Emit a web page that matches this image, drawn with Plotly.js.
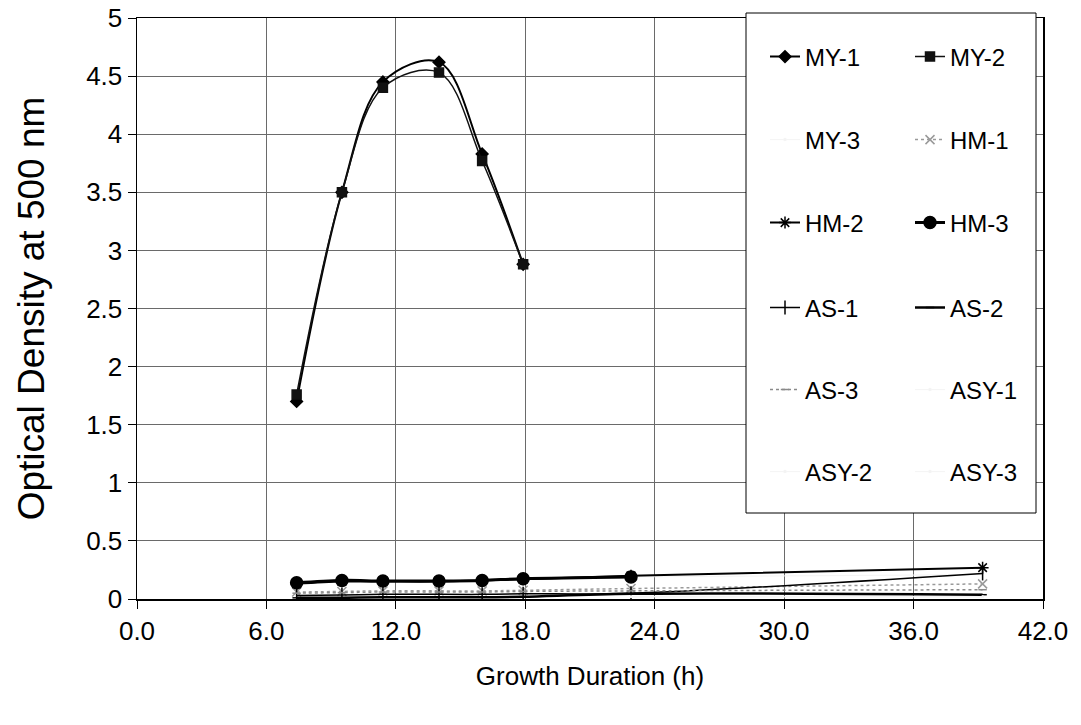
<!DOCTYPE html>
<html>
<head>
<meta charset="utf-8">
<script src="https://cdn.plot.ly/plotly-3.0.1.min.js"></script>
<style>html,body{margin:0;padding:0;background:#fff;}#chart{width:1081px;height:725px;}</style>
</head>
<body>
<div id="chart"></div>
<script>
// Growth duration (h)
const hours = [7.4, 9.5, 11.4, 14.0, 16.0, 17.9, 22.9, 39.2];
const hoursMain = [7.4, 9.5, 11.4, 14.0, 16.0, 17.9];
const hoursLate = [22.9, 39.2];

// Optical density at 500 nm
const my1 = [1.70, 3.50, 4.45, 4.62, 3.83, 2.88];
const my2 = [1.76, 3.50, 4.40, 4.53, 3.77, 2.88];
const my3 = [0.19, 0.21];
const hm1 = [0.06, 0.065, 0.07, 0.07, 0.07, 0.075, 0.09, 0.13];
const hm2 = [0.13, 0.15, 0.15, 0.15, 0.16, 0.17, 0.20, 0.27];
const hm3 = [0.14, 0.16, 0.155, 0.155, 0.16, 0.175, 0.19];
const as1 = [0.03, 0.035, 0.04, 0.04, 0.04, 0.045, 0.05, 0.22];
const as2 = [0.01, 0.01, 0.015, 0.015, 0.015, 0.02, 0.045, 0.037];
const as3 = [0.05, 0.055, 0.06, 0.06, 0.06, 0.065, 0.07, 0.08];
const asy1 = [0.02, 0.02];
const asy2 = [0.02, 0.02];
const asy3 = [0.02, 0.02];

const FONT = '"Liberation Sans", Arial, sans-serif';
const faint = '#f4f4f4';

function tr(name, x, y, color, width, symbol, msize, dash, legend) {
  return {
    type: 'scatter', mode: 'lines+markers', name: name, x: x, y: y,
    line: {color: color, width: width, shape: 'spline', dash: dash || 'solid'},
    marker: {symbol: symbol, size: msize, color: color, line: {color: color, width: 1.5}},
    legend: legend
  };
}

const traces = [
  tr('MY-1', hoursMain, my1, '#000', 2, 'diamond', 9, 'solid', 'legend'),
  tr('MY-2', hoursMain, my2, '#111', 1.5, 'square', 9, 'solid', 'legend'),
  tr('MY-3', hoursLate, my3, faint, 1, 'circle', 1, 'solid', 'legend2'),
  tr('HM-1', hours, hm1, '#9a9a9a', 1.5, 'x-thin-open', 9, 'dot', 'legend2'),
  tr('HM-2', hours, hm2, '#000', 2, 'asterisk-open', 10, 'solid', 'legend3'),
  tr('HM-3', hours.slice(0, hm3.length), hm3, '#000', 3, 'circle', 12, 'solid', 'legend3'),
  tr('AS-1', hours, as1, '#000', 1.5, 'line-ns-open', 10, 'solid', 'legend4'),
  tr('AS-2', hours, as2, '#000', 2.5, 'line-ew-open', 6, 'solid', 'legend4'),
  tr('AS-3', hours, as3, '#8a8a8a', 1.5, 'line-ew-open', 6, 'dot', 'legend5'),
  tr('ASY-1', hoursLate, asy1, faint, 1, 'circle', 1, 'solid', 'legend5'),
  tr('ASY-2', hoursLate, asy2, faint, 1, 'circle', 1, 'solid', 'legend6'),
  tr('ASY-3', hoursLate, asy3, faint, 1, 'circle', 1, 'solid', 'legend6')
];

const L = 137, R = 1043, T = 18, B = 599;
const pw = R - L, ph = B - T;
const px = v => (v - L) / pw;
const py = v => (B - v) / ph;

function leg(rowPx) {
  return {
    orientation: 'h', x: px(765), y: py(rowPx), xanchor: 'left', yanchor: 'middle',
    entrywidth: 100, entrywidthmode: 'pixels', bgcolor: 'rgba(0,0,0,0)', borderwidth: 0,
    font: {family: FONT, size: 24, color: '#000'}, itemclick: false
  };
}

const layout = {
  width: 1081, height: 725,
  margin: {l: L, r: 1081 - R, t: T, b: 725 - B, autoexpand: false},
  paper_bgcolor: '#fff', plot_bgcolor: '#fff',
  font: {family: FONT, size: 24, color: '#000'},
  showlegend: true,
  legend: leg(57), legend2: leg(140), legend3: leg(223),
  legend4: leg(308), legend5: leg(390), legend6: leg(472),
  xaxis: {
    range: [0, 42], dtick: 6, tick0: 0, tickformat: '.1f',
    showgrid: true, gridcolor: '#6a6a6a', gridwidth: 1,
    showline: true, linecolor: '#000', linewidth: 1.5, mirror: true,
    ticks: 'outside', ticklen: 8, tickcolor: '#000',
    zeroline: false,
    tickfont: {family: FONT, size: 26},
    title: {text: 'Growth Duration (h)', font: {family: FONT, size: 26}, standoff: 22}
  },
  yaxis: {
    range: [0, 5], dtick: 0.5, tick0: 0,
    showgrid: true, gridcolor: '#6a6a6a', gridwidth: 1,
    showline: true, linecolor: '#000', linewidth: 1.5, mirror: true,
    ticks: 'outside', ticklen: 8, tickcolor: '#000',
    zeroline: false,
    tickfont: {family: FONT, size: 26},
    title: {text: 'Optical Density at 500 nm', font: {family: FONT, size: 37}, standoff: 30}
  },
  shapes: [{
    type: 'rect', xref: 'paper', yref: 'paper',
    x0: px(746), x1: px(1036), y0: py(513), y1: py(13),
    line: {color: '#000', width: 1}, fillcolor: '#fff', layer: 'above'
  }]
};

Plotly.newPlot('chart', traces, layout, {displayModeBar: false, staticPlot: true});
</script>
</body>
</html>
